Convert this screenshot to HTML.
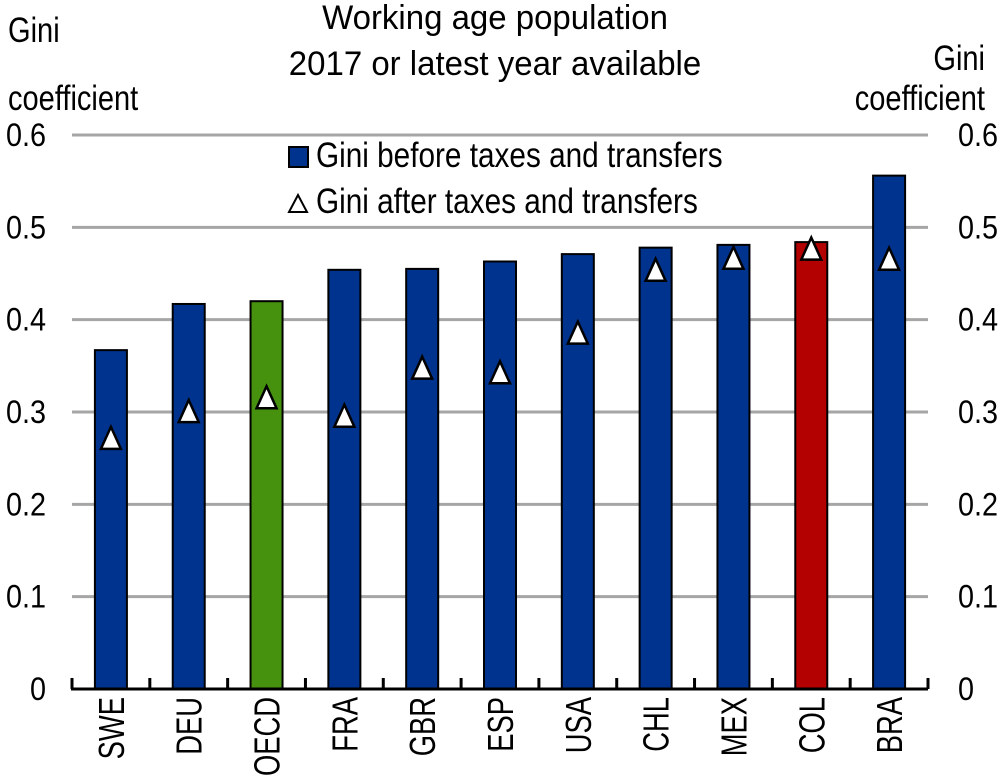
<!DOCTYPE html>
<html><head><meta charset="utf-8"><style>
html,body{margin:0;padding:0;background:#fff;}
svg{display:block;font-family:"Liberation Sans",sans-serif;}
</style></head><body>
<svg id="chart" width="1000" height="780" viewBox="0 0 1000 780">
<g font-size="34">
<text transform="translate(495,29) scale(0.97,1)" text-anchor="middle">Working age population</text>
<text transform="translate(495,75) scale(0.97,1)" text-anchor="middle">2017 or latest year available</text>
</g>
<g font-size="35">
<text transform="translate(8,42) scale(0.83,1)">Gini</text>
<text transform="translate(8,110) scale(0.83,1)">coefficient</text>
</g>
<g font-size="35">
<text transform="translate(985,70) scale(0.83,1)" text-anchor="end">Gini</text>
<text transform="translate(985,110) scale(0.83,1)" text-anchor="end">coefficient</text>
</g>
<g id="grid"></g>
<g id="bars"></g>
<g id="markers"></g>
<g id="axis"></g>
<g>
<rect x="289" y="147" width="19" height="20" fill="#00338d" stroke="#000" stroke-width="2"/>
<text transform="translate(316,167) scale(0.85,1)" font-size="35">Gini before taxes and transfers</text>
<polygon points="298,195 289,212 307,212" fill="#fff" stroke="#000" stroke-width="2"/>
<text transform="translate(316,213) scale(0.85,1)" font-size="35">Gini after taxes and transfers</text>
</g>
</svg>
<script>
const categories = ["SWE","DEU","OECD","FRA","GBR","ESP","USA","CHL","MEX","COL","BRA"];
const giniBefore = [0.367,0.417,0.420,0.454,0.455,0.463,0.471,0.478,0.481,0.484,0.556];
const giniAfter = [0.272,0.301,0.316,0.296,0.348,0.343,0.386,0.454,0.467,0.477,0.466];
const barColors = ["#00338d","#00338d","#46920f","#00338d","#00338d","#00338d","#00338d","#00338d","#00338d","#b30000","#00338d"];
const yTicks = [0,0.1,0.2,0.3,0.4,0.5,0.6];
const yTickLabels = ["0","0.1","0.2","0.3","0.4","0.5","0.6"];

const NS="http://www.w3.org/2000/svg";
const L=72,R=928,Y0=689,Y6=135;
const yScale=v=>Y0-(Y0-Y6)*v/0.6;
const step=(R-L)/categories.length;
const xCenter=i=>L+step*(i+0.5);
function mk(tag,attrs,parent){const e=document.createElementNS(NS,tag);for(const k in attrs)e.setAttribute(k,attrs[k]);parent.appendChild(e);return e;}
const grid=document.getElementById('grid'),bars=document.getElementById('bars'),markers=document.getElementById('markers'),axis=document.getElementById('axis');
yTicks.forEach((t,i)=>{
  const y=yScale(t);
  if(t>0){const g=mk('line',{x1:L,x2:R,y1:y,y2:y,stroke:'#a6a6a6','stroke-width':3},grid);
  
  }
  const tl=mk('text',{'text-anchor':'end','font-size':32,transform:`translate(46,${y+11}) scale(0.9,1)`},axis);tl.textContent=yTickLabels[i];
  
  
  const tr=mk('text',{'font-size':32,transform:`translate(958,${y+11}) scale(0.9,1)`},axis);tr.textContent=yTickLabels[i];
  
  
});
const bw=32;
categories.forEach((c,i)=>{
  const cx=xCenter(i),top=yScale(giniBefore[i]);
  const b=mk('rect',{x:cx-bw/2,y:top,width:bw,height:Y0-top,fill:barColors[i],stroke:'#000','stroke-width':2},bars);
  
  
  const my=yScale(giniAfter[i]);
  const m=mk('polygon',{points:`${cx},${my-11} ${cx-10},${my+11} ${cx+10},${my+11}`,fill:'#fff',stroke:'#000','stroke-width':2.5},markers);
  
  
  const t=mk('text',{x:0,y:0,'font-size':36,'text-anchor':'end',transform:`translate(${cx+13},697) rotate(-90) scale(0.76,1)`},axis);
  t.textContent=c;
  
  
});
const ax=mk('line',{x1:L-1,x2:R,y1:Y0,y2:Y0,stroke:'#000','stroke-width':3},axis);


for(let i=0;i<=categories.length;i++){
  const x=L+step*i;
  const tk=mk('line',{x1:x,x2:x,y1:Y0,y2:Y0-11,stroke:'#000','stroke-width':3},axis);
  
  
}
</script>
</body></html>
